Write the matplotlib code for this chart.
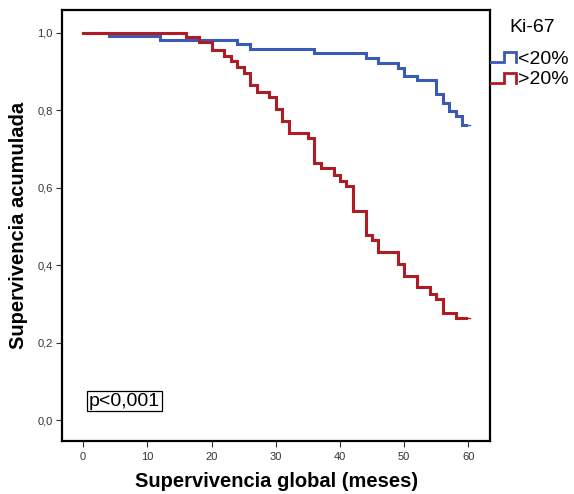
import matplotlib
matplotlib.use("Agg")
import matplotlib.pyplot as plt
from matplotlib.lines import Line2D

plt.rcParams['font.family'] = ['Liberation Sans', 'DejaVu Sans']

# Kaplan-Meier step data (time in months, cumulative survival)
low_t = [0, 4, 12, 24, 26, 36, 44, 46, 49, 50, 52, 55, 56, 57, 58, 59, 59.7]
low_s = [1.0, 0.992, 0.980, 0.971, 0.958, 0.947, 0.934, 0.923, 0.910, 0.889, 0.877, 0.842, 0.818, 0.797, 0.784, 0.762, 0.762]

high_t = [0, 16, 18, 20, 22, 23, 24, 25, 26, 27, 29, 30, 31, 32, 35, 36, 37, 39, 40, 41, 42, 44, 45, 46, 49, 50, 52, 54, 55, 56, 58, 59.7]
high_s = [1.0, 0.988, 0.975, 0.956, 0.941, 0.926, 0.911, 0.896, 0.864, 0.848, 0.834, 0.803, 0.773, 0.741, 0.728, 0.663, 0.650, 0.633, 0.618, 0.605, 0.541, 0.478, 0.465, 0.433, 0.402, 0.372, 0.343, 0.326, 0.312, 0.277, 0.265, 0.265]

labels = ['<20%', '>20%']
colors = ['#3a5bb5', '#b01c24']
legend_title = 'Ki-67'
xticks = [0, 10, 20, 30, 40, 50, 60]
yticks = [0.0, 0.2, 0.4, 0.6, 0.8, 1.0]

W, H = 574, 494
fig = plt.figure(figsize=(W / 100, H / 100), dpi=100)
ax = fig.add_axes([0.108, 0.107, 0.746, 0.873])

for t, s, c, lab in [(low_t, low_s, colors[0], labels[0]), (high_t, high_s, colors[1], labels[1])]:
    ax.step(t, s, where='post', color=c, lw=2.2, label=lab, solid_joinstyle='miter')
    # censor tick at end
    ax.plot([t[-1] - 0.3, t[-1] + 0.5], [s[-1], s[-1]], color=c, lw=1.0)

ax.set_xlim(-3.3, 63.4)
ax.set_ylim(-0.054, 1.059)
ax.set_xticks(xticks)
ax.set_xticklabels([str(x) for x in xticks])
ax.set_yticks(yticks)
ax.set_yticklabels([f"{y:.1f}".replace('.', ',') for y in yticks])
ax.tick_params(axis='both', labelsize=8, length=4, width=0.8, colors='#333333', labelcolor='#333333', direction='out', pad=2.5)
ax.tick_params(axis='x', pad=4)
for sp in ax.spines.values():
    sp.set_linewidth(1.6)
    sp.set_color('black')

ax.set_xlabel('Supervivencia global (meses)', fontsize=14.5, fontweight='bold', labelpad=7)
ax.set_ylabel('Supervivencia acumulada', fontsize=14.5, fontweight='bold', labelpad=7)

ax.text(0.9, 0.049, 'p<0,001', fontsize=14, ha='left', va='center',
        bbox=dict(boxstyle='square,pad=0.08', fc='white', ec='black', lw=0.9))


# manual legend (figure pixel coordinates)
def fx(px):
    return px / W


def fy(py):
    return 1 - py / H


fig.text(fx(532), fy(28), legend_title, fontsize=14, ha='center', va='center')
for i, (lab, c) in enumerate(zip(labels, colors)):
    base = 62 + i * 21
    top = base - 10
    xs = [491, 504, 504, 516, 516]
    ys = [base, base, top, top, base]
    fig.add_artist(Line2D([fx(x) for x in xs], [fy(y) for y in ys], color=c, lw=2.0,
                          transform=fig.transFigure, solid_joinstyle='miter'))
    fig.text(fx(518), fy(base - 3), lab, fontsize=14, ha='left', va='center')

fig.savefig('out.png', dpi=100)
